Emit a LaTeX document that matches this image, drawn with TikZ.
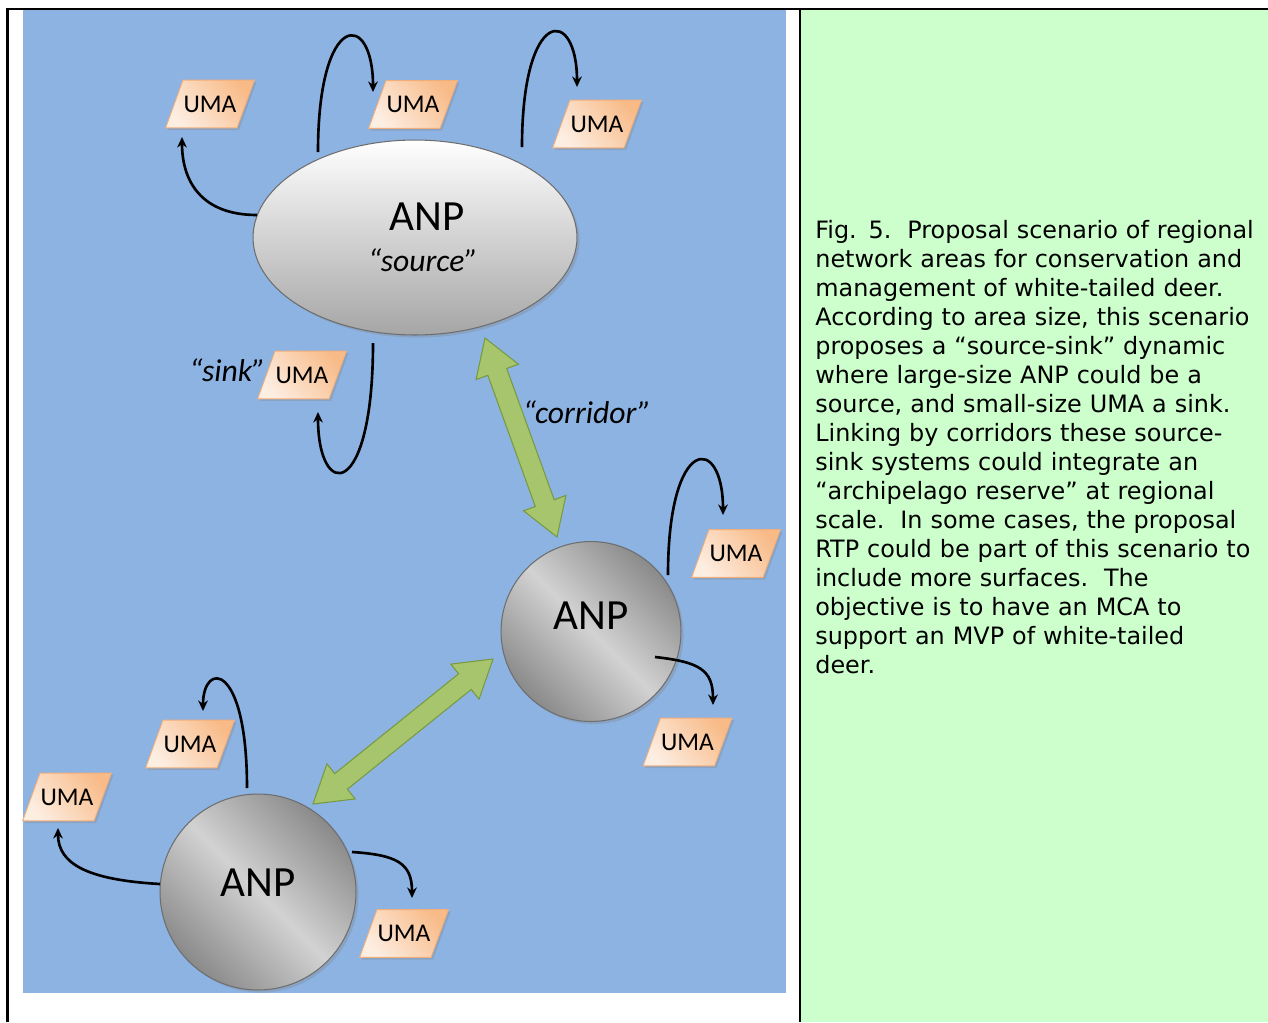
\documentclass[tikz,border=0pt]{standalone}
\usepackage{fontspec}
\setmainfont{Carlito}
\newfontfamily\verdana{DejaVu Sans}
\usetikzlibrary{calc,positioning,shapes.geometric,shapes.arrows,shadows,arrows.meta}

\definecolor{bgblue}{HTML}{8DB3E2}
\definecolor{capgreen}{HTML}{CCFFCC}
\definecolor{umalight}{HTML}{FDEEE2}
\definecolor{umadark}{HTML}{F8BB88}
\definecolor{umaedge}{HTML}{F2AE7A}
\definecolor{anpedge}{HTML}{6E6E6E}
\definecolor{ballshade}{HTML}{8A8A8A}
\definecolor{balllight}{HTML}{D2D2D2}
\definecolor{corrfill}{HTML}{A7C56D}
\definecolor{corredge}{HTML}{789A3E}

\tikzset{
  frame/.style={line width=1.5pt},
  anpsrc/.style={ellipse, minimum width=6.48cm, minimum height=3.9cm, inner sep=0pt,
    draw=anpedge, line width=0.6pt, top color=white, bottom color=gray!70,
    drop shadow={shadow xshift=1.5pt, shadow yshift=-1.5pt, opacity=0.3},
    align=center, font=\fontsize{18pt}{23pt}\selectfont},
  anpball/.style={circle, inner sep=0pt, draw=anpedge, line width=0.6pt,
    top color=ballshade, bottom color=ballshade, middle color=balllight, shading angle=-45,
    drop shadow={shadow xshift=1.5pt, shadow yshift=-1.5pt, opacity=0.3},
    font=\fontsize{24.5pt}{26pt}\selectfont, text height=15.8pt},
  uma/.style={trapezium, trapezium left angle=70, trapezium right angle=110,
    text width=1.08cm, align=center, text height=9.5pt, text depth=0pt,
    inner xsep=0pt, inner ysep=8.85pt,
    draw=umaedge, line width=0.5pt, top color=umadark, bottom color=umalight, shading angle=-50,
    drop shadow={shadow xshift=1.2pt, shadow yshift=-1.2pt, opacity=0.3},
    font=\fontsize{14.5pt}{16pt}\selectfont},
  conn/.style={line width=1.5pt, -{Stealth[length=6pt, width=5.5pt]}},
  corridor/.style={double arrow, double arrow head extend=0.25cm, double arrow tip angle=64,
    inner sep=0.19cm, draw=corredge, line width=0.6pt, fill=corrfill},
  lbl/.style={inner sep=0pt, font=\itshape\fontsize{18pt}{20pt}\selectfont},
  captext/.style={inner sep=0pt, align=left, text width=9cm,
    font=\verdana\fontsize{13.6pt}{16.5pt}\selectfont}
}

\begin{document}
\begin{tikzpicture}[x=0.02cm, y=-0.02cm]
\useasboundingbox (0,0) rectangle (1268,1022);
% panels
\fill[bgblue] (23,10) rectangle (786,993);
\fill[capgreen] (801,10) rectangle (1268,1022);
\draw[frame] (7.5,1022) -- (7.5,9) -- (1268,9);
\draw[frame] (800,9) -- (800,1022);

% ANP
\node[anpsrc] (src) at (415,237.5) {\hspace*{14pt}{\fontsize{24.5pt}{26pt}\selectfont ANP}\\\hspace*{9pt}\itshape “source”};
\node[anpball, minimum size=3.6cm, text depth=17.6pt] (anp2) at (591,631.5) {ANP};
\node[anpball, minimum size=3.92cm, text depth=10.2pt] (anp3) at (258,892) {ANP};

% UMA
\node[uma] (u1) at (210,104) {UMA};
\node[uma] (u2) at (413,104.5) {UMA};
\node[uma] (u3) at (597,124) {UMA};
\node[uma] (u4) at (302,375) {UMA};
\node[uma] (u5) at (736,553.5) {UMA};
\node[uma] (u6) at (687.5,742) {UMA};
\node[uma] (u7) at (190,744) {UMA};
\node[uma] (u8) at (67,797) {UMA};
\node[uma] (u9) at (404,933.5) {UMA};

\node[lbl, left=0pt of u4, yshift=3pt] (sink) {“sink”};
\node[lbl] (corlbl) at (587,412) {“corridor”};

% dispersal
\draw[conn] ($(src.center)+(-158,-22.5)$) .. controls +(-55,0) and +(0,45) .. ($(u1.center)+(-28,33)$);
\draw[conn] ($(src.center)+(-97,-85.5)$) .. controls +(0,-142) and +(0,-82) .. ($(u2.center)+(-40,-12.5)$);
\draw[conn] ($(src.center)+(107,-90.5)$) .. controls +(0,-141) and +(0,-81) .. ($(u3.center)+(-20,-37)$);
\draw[conn] ($(src.center)+(-42,105.5)$) .. controls +(0,158) and +(0,89) .. ($(u4.center)+(16,37)$);
\draw[conn] ($(anp2.center)+(77,-56.5)$) .. controls +(0,-141) and +(0,-81) .. ($(u5.center)+(-13,-38.5)$);
\draw[conn] ($(anp2.center)+(64,25.5)$) .. controls +(45,5) and +(0,-35) .. ($(u6.center)+(25.5,-37)$);
\draw[conn] ($(anp3.center)+(-11,-104)$) .. controls +(0,-127) and +(0,-50) .. ($(u7.center)+(13,-33)$);
\draw[conn] ($(anp3.center)+(-98,-8)$) .. controls +(-70,-4) and +(0,37) .. ($(u8.center)+(-9,31)$);
\draw[conn] ($(anp3.center)+(94,-40)$) .. controls +(45,3) and +(0,-35) .. ($(u9.center)+(8,-35.5)$);

% corridors
\path let \p1=($(src.center)+(70,100.5)$), \p2=($(anp2.center)+(-34,-94.5)$),
  \n1={atan2(\y2-\y1,\x2-\x1)}, \n2={veclen(\x2-\x1,\y2-\y1)} in
  node[corridor, minimum height=\n2, rotate=\n1] (cor1) at ($(\p1)!0.5!(\p2)$) {};
\path let \p1=($(anp3.center)+(55,-88)$), \p2=($(anp2.center)+(-98,27.5)$),
  \n1={atan2(\y2-\y1,\x2-\x1)}, \n2={veclen(\x2-\x1,\y2-\y1)} in
  node[corridor, minimum height=\n2, rotate=\n1] (cor2) at ($(\p1)!0.5!(\p2)$) {};

% caption
\node[captext, anchor=base west] (cap) at (815,238.5) {Fig. 5.\ \ Proposal scenario of regional\\
network areas for conservation and\\
management of white-tailed deer.\\
According to area size, this scenario\\
proposes a “source-sink” dynamic\\
where large-size ANP could be a\\
source, and small-size UMA a sink.\\
Linking by corridors these source-\\
sink systems could integrate an\\
“archipelago reserve” at regional\\
scale.\ \ In some cases, the proposal\\
RTP could be part of this scenario to\\
include more surfaces.\ \ The\\
objective is to have an MCA to\\
support an MVP of white-tailed\\
deer.};
\end{tikzpicture}
\end{document}
